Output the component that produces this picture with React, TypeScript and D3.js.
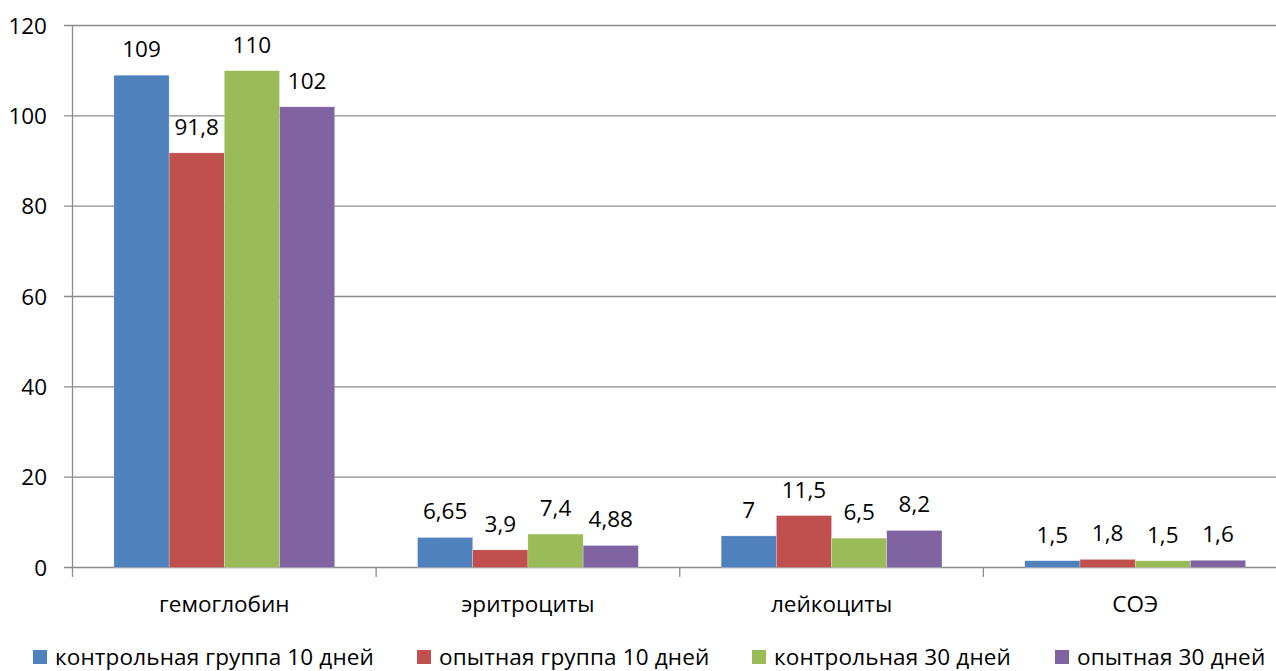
import * as d3 from 'd3'

const categories = ['гемоглобин', 'эритроциты', 'лейкоциты', 'СОЭ']
const seriesNames = [
  'контрольная группа 10 дней',
  'опытная группа 10 дней',
  'контрольная 30 дней',
  'опытная 30 дней',
]
const seriesColors = ['#4F81BD', '#C0504D', '#9BBB59', '#8064A2']
const values = [
  [109, 6.65, 7, 1.5],
  [91.8, 3.9, 11.5, 1.8],
  [110, 7.4, 6.5, 1.5],
  [102, 4.88, 8.2, 1.6],
]
const labels = [
  ['109', '6,65', '7', '1,5'],
  ['91,8', '3,9', '11,5', '1,8'],
  ['110', '7,4', '6,5', '1,5'],
  ['102', '4,88', '8,2', '1,6'],
]
const yTicks = [0, 20, 40, 60, 80, 100, 120]

const W = 1276
const H = 671
const font = "'Open Sans', 'Liberation Sans', Arial, sans-serif"
const fs = 22.5

export default function App() {
  const x = d3.scaleBand<string>().domain(categories).range([72.5, 1287]).padding(0)
  const inner = d3
    .scaleBand<number>()
    .domain(d3.range(seriesNames.length))
    .range([0, x.bandwidth()])
    .paddingOuter(0.75)
    .paddingInner(0)
  const y = d3.scaleLinear().domain([0, 120]).range([567.5, 25.5])

  // legend entries are laid out by hand, as in the original
  const legendX = [33, 417, 752, 1055]

  return (
    <svg
      width={W}
      height={H}
      style={{ position: 'fixed', left: 0, top: 0, background: '#fff', overflow: 'hidden' }}
      fontFamily={font}
    >
      {yTicks.map(t => (
        <g key={t}>
          <line x1={64} x2={1287} y1={y(t)} y2={y(t)} stroke="#8a8a8a" strokeWidth={1.3} />
          <text x={47} y={y(t) + 8} textAnchor="end" fontSize={fs} fill="#000">
            {t}
          </text>
        </g>
      ))}
      <line x1={72.5} x2={72.5} y1={y(120)} y2={577} stroke="#8a8a8a" strokeWidth={1.3} />
      {categories.map(c => (
        <line
          key={c}
          x1={x(c)! + x.bandwidth()}
          x2={x(c)! + x.bandwidth()}
          y1={y(0)}
          y2={577}
          stroke="#8a8a8a"
          strokeWidth={1.3}
        />
      ))}
      {values.map((row, s) =>
        row.map((v, ci) => {
          const bx = x(categories[ci])! + inner(s)!
          return (
            <g key={`${s}-${ci}`}>
              <rect
                x={bx}
                y={y(v)}
                width={inner.bandwidth()}
                height={y(0) - y(v)}
                fill={seriesColors[s]}
                stroke="#ffffff"
                strokeOpacity={0.5}
                strokeWidth={0.5}
              />
              <text
                x={bx + inner.bandwidth() / 2}
                y={y(v) - 18}
                textAnchor="middle"
                fontSize={fs}
                fill="#000"
              >
                {labels[s][ci]}
              </text>
            </g>
          )
        })
      )}
      {categories.map(c => (
        <text key={c} x={x(c)! + x.bandwidth() / 2} y={612} textAnchor="middle" fontSize={fs} fill="#000">
          {c}
        </text>
      ))}
      {seriesNames.map((n, i) => (
        <g key={n}>
          <rect x={legendX[i]} y={650} width={14} height={14} fill={seriesColors[i]} />
          <text x={legendX[i] + 22} y={664.5} fontSize={fs} fill="#000" letterSpacing={0.15}>
            {n}
          </text>
        </g>
      ))}
    </svg>
  )
}
